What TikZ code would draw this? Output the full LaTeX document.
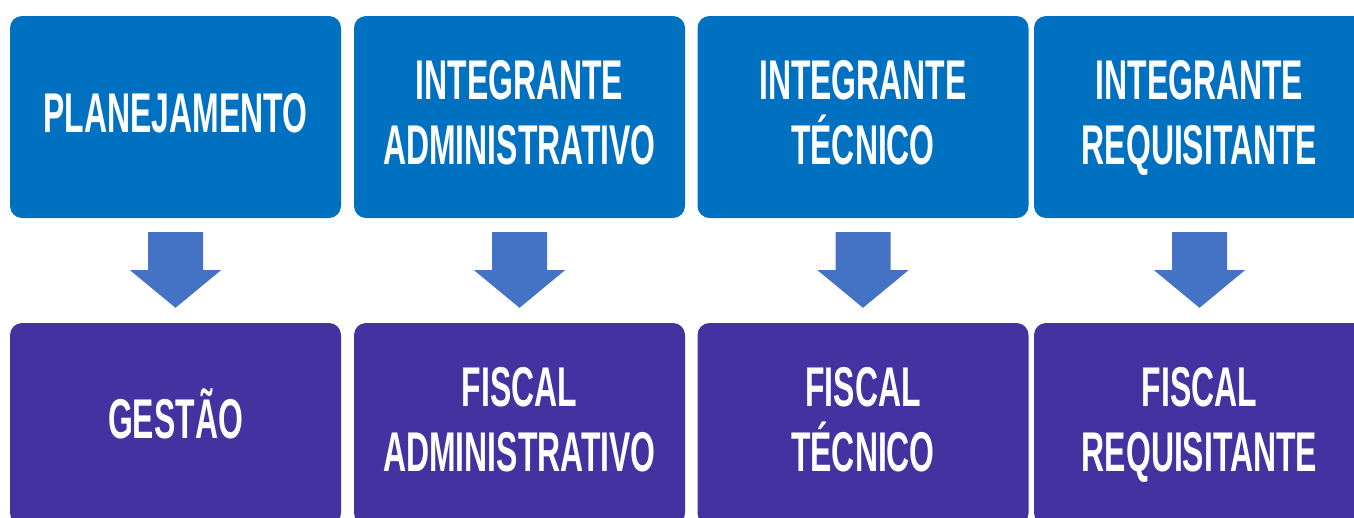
\documentclass[tikz,border=0pt]{standalone}
\usepackage{fontspec}
\setmainfont[FakeStretch=0.57]{Liberation Sans}
\usetikzlibrary{calc}
\definecolor{topblue}{HTML}{0070C0}
\definecolor{botpurple}{HTML}{4332A0}
\definecolor{arrowblue}{HTML}{4472C4}
\tikzset{
  box/.style={rectangle, rounded corners=12pt, minimum width=331pt, minimum height=202pt, inner sep=0pt},
  topbox/.style={box, fill=topblue},
  botbox/.style={box, fill=botpurple},
  lbl/.style={text=white, font=\bfseries\fontsize{56pt}{65pt}\selectfont, align=center, inner sep=0pt, anchor=base},
  downarrow/.style={fill=arrowblue}
}
\begin{document}
\begin{tikzpicture}[x=1pt,y=-1pt]
\clip (0,0) rectangle (1354,517);
\fill[white] (0,0) rectangle (1354,517);
% top row
\node[topbox] (t1) at (175.5,117) {};
\node[topbox] (t2) at (519.5,117) {};
\node[topbox] (t3) at (863,117) {};
\node[topbox] (t4) at (1199.5,117) {};
% bottom row
\node[botbox] (b1) at (175.5,424) {};
\node[botbox] (b2) at (519.5,424) {};
\node[botbox] (b3) at (863,424) {};
\node[botbox] (b4) at (1199.5,424) {};
% labels (placed by last-line baseline)
\node[lbl] (lt1) at (175.5,132) {PLANEJAMENTO};
\node[lbl] (lt2) at (519.5,164) {INTEGRANTE\\ADMINISTRATIVO};
\node[lbl] (lt3) at (863,164) {INTEGRANTE\\TÉCNICO};
\node[lbl] (lt4) at (1199.5,164) {INTEGRANTE\\REQUISITANTE};
\node[lbl] (lb1) at (175.5,438) {GESTÃO};
\node[lbl] (lb2) at (519.5,471) {FISCAL\\ADMINISTRATIVO};
\node[lbl] (lb3) at (863,471) {FISCAL\\TÉCNICO};
\node[lbl] (lb4) at (1199.5,471) {FISCAL\\REQUISITANTE};
% arrows
\foreach \i in {1,2,3,4}{
  \fill[downarrow]
    ($(t\i.south)+(-27.5,14)$) -- ($(t\i.south)+(27.5,14)$) --
    ($(t\i.south)+(27.5,52)$) -- ($(t\i.south)+(45.5,52)$) --
    ($(b\i.north)+(0,-15)$) --
    ($(t\i.south)+(-45.5,52)$) -- ($(t\i.south)+(-27.5,52)$) -- cycle;
}
\end{tikzpicture}
\end{document}
